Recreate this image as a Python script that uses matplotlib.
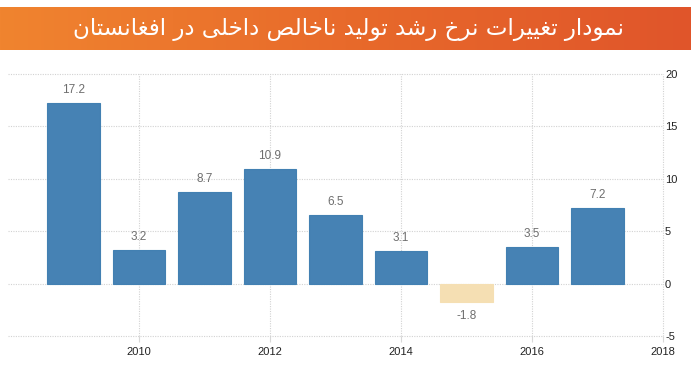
import numpy as np
import matplotlib
matplotlib.use("Agg")
import matplotlib.pyplot as plt
from matplotlib.colors import LinearSegmentedColormap

# ---- data ----
years = [2009, 2010, 2011, 2012, 2013, 2014, 2015, 2016, 2017]
growth = [17.2, 3.2, 8.7, 10.9, 6.5, 3.1, -1.8, 3.5, 7.2]
value_labels = ["17.2", "3.2", "8.7", "10.9", "6.5", "3.1", "-1.8", "3.5", "7.2"]
xticks = [2010, 2012, 2014, 2016, 2018]
yticks = [-5, 0, 5, 10, 15, 20]
title = "نمودار تغییرات نرخ رشد تولید ناخالص داخلی در افغانستان"

# ---- simple Arabic/Persian shaping (presentation forms + RTL order) ----
FORMS = {
    '\u0627': ('\uFE8D', '\uFE8E', None, None),
    '\u0628': ('\uFE8F', '\uFE90', '\uFE91', '\uFE92'),
    '\u062A': ('\uFE95', '\uFE96', '\uFE97', '\uFE98'),
    '\u062E': ('\uFEA5', '\uFEA6', '\uFEA7', '\uFEA8'),
    '\u062F': ('\uFEA9', '\uFEAA', None, None),
    '\u0631': ('\uFEAD', '\uFEAE', None, None),
    '\u0633': ('\uFEB1', '\uFEB2', '\uFEB3', '\uFEB4'),
    '\u0634': ('\uFEB5', '\uFEB6', '\uFEB7', '\uFEB8'),
    '\u0635': ('\uFEB9', '\uFEBA', '\uFEBB', '\uFEBC'),
    '\u063A': ('\uFECD', '\uFECE', '\uFECF', '\uFED0'),
    '\u0641': ('\uFED1', '\uFED2', '\uFED3', '\uFED4'),
    '\u0644': ('\uFEDD', '\uFEDE', '\uFEDF', '\uFEE0'),
    '\u0645': ('\uFEE1', '\uFEE2', '\uFEE3', '\uFEE4'),
    '\u0646': ('\uFEE5', '\uFEE6', '\uFEE7', '\uFEE8'),
    '\u0648': ('\uFEED', '\uFEEE', None, None),
    '\u06CC': ('\uFEEF', '\uFEF0', '\uFEF3', '\uFEF4'),
    '\u064A': ('\uFEF1', '\uFEF2', '\uFEF3', '\uFEF4'),
}


def shape(s):
    out = []
    n = len(s)
    for i, c in enumerate(s):
        if c not in FORMS:
            out.append(c)
            continue
        f = FORMS[c]
        prev = s[i - 1] if i > 0 else None
        nxt = s[i + 1] if i < n - 1 else None
        jp = prev in FORMS and FORMS[prev][2] is not None
        jn = f[2] is not None and nxt in FORMS
        if jp and jn:
            out.append(f[3])
        elif jp:
            out.append(f[1])
        elif jn:
            out.append(f[2])
        else:
            out.append(f[0])
    return ''.join(out)[::-1]


W, H = 691, 382
fig = plt.figure(figsize=(W / 100, H / 100), dpi=100)
fig.patch.set_facecolor("white")

# ---- header band ----
hax = fig.add_axes([0, 1 - 50 / H, 1, 43 / H])
cmap = LinearSegmentedColormap.from_list("hdr", ["#F0842F", "#E86A2B", "#E0552A"])
grad = np.linspace(0, 1, 256).reshape(1, -1)
hax.imshow(grad, aspect="auto", cmap=cmap, extent=[0, 1, 0, 1])
hax.set_xlim(0, 1)
hax.set_ylim(0, 1)
hax.axis("off")
hax.text(0.505, 0.47, shape(title), color="white", fontsize=16.6,
         family="DejaVu Sans", ha="center", va="center")

# ---- main chart ----
left, right = 8 / W, 663 / W
bottom, top = (H - 336) / H, (H - 74) / H
ax = fig.add_axes([left, bottom, right - left, top - bottom])

colors = ["#4682B4" if v >= 0 else "#F5DFB3" for v in growth]
edges = ["#4280B2" if v >= 0 else "#F5DFB3" for v in growth]
ax.bar(years, growth, width=0.8, color=colors, edgecolor=edges,
       linewidth=0.8, zorder=3)

for x, v, lab in zip(years, growth, value_labels):
    off = 9.5 if v >= 0 else -9.5
    ax.annotate(lab, (x, v), xytext=(0, off), textcoords="offset points",
                ha="center", va="center", fontsize=8.5, color="#6E6E6E",
                family="Liberation Sans")

ax.set_xlim(2008, 2018)
ax.set_ylim(-5, 20)
ax.set_xticks(xticks)
ax.set_yticks(yticks)
ax.set_xticklabels([str(t) for t in xticks], family="Liberation Sans",
                   fontsize=8, color="#222222")
ax.set_yticklabels([str(t) for t in yticks], family="Liberation Sans",
                   fontsize=8, color="#222222")
ax.yaxis.tick_right()
ax.tick_params(axis="y", length=0, pad=1.5)
ax.tick_params(axis="x", length=4, color="#D8D8D8", width=0.8, pad=4)

ax.grid(True, color="#D2D2D2", linestyle=(0, (1, 1.2)), linewidth=0.8, zorder=0)
ax.set_axisbelow(True)
for ln in ax.get_xgridlines() + ax.get_ygridlines():
    ln.set_clip_on(False)
for sp in ax.spines.values():
    sp.set_visible(False)
ax.set_facecolor("none")

fig.savefig("out.png", dpi=100, facecolor="white")
